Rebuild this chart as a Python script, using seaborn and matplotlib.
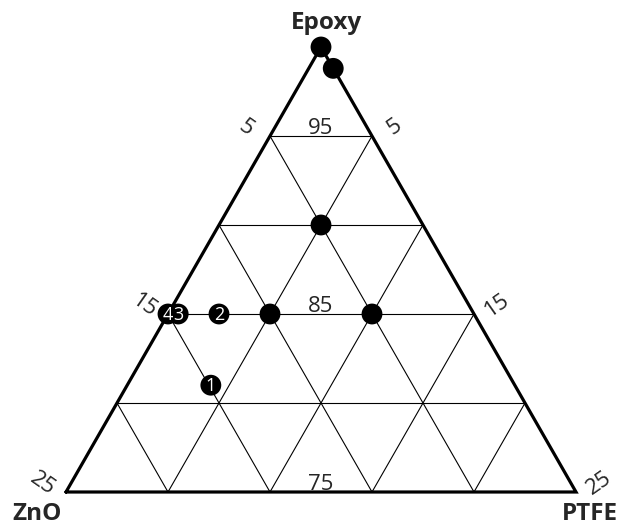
import numpy as np
import pandas as pd
import seaborn as sns
import matplotlib.pyplot as plt

sns.set_style('white')
plt.rcParams['font.family'] = ['Open Sans', 'DejaVu Sans']

# composition of each sample (wt %)
epoxy = [100, 98.8, 90, 85, 85, 81, 85, 85, 85]
ptfe = [0, 1.2, 5, 5, 10, 4.1, 2.5, 0.5, 0]
zno = [0, 0, 5, 10, 5, 14.9, 12.5, 14.5, 15]
point_labels = ['', '', '', '', '', '1', '2', '3', '4']

grid_steps = [5, 10, 15, 20]
side_ticks = [5, 15, 25]
center_ticks = [95, 85, 75]

EMIN, SPAN = 75, 25
H = 445 / 510
PX = 1 / 510


def to_xy(e, p):
    t = (np.asarray(e, float) - EMIN) / SPAN
    return np.asarray(p, float) / SPAN + t / 2, t * H


df = pd.DataFrame({'Epoxy': epoxy, 'PTFE': ptfe, 'ZnO': zno, 'label': point_labels})
df['x'], df['y'] = to_xy(df['Epoxy'], df['PTFE'])

fig = plt.figure(figsize=(6.2, 5.27), dpi=100)
ax = fig.add_axes([0, 0, 1, 1])
ax.set_xlim(-66 * PX, 554 * PX)
ax.set_ylim(-35 * PX, 492 * PX)
ax.axis('off')

# inner grid
for g in grid_steps:
    # constant epoxy
    xs, ys = to_xy([100 - g, 100 - g], [0, g])
    ax.plot(xs, ys, color='black', lw=0.8, zorder=1)
    # constant PTFE
    xs, ys = to_xy([EMIN, 100 - g], [g, g])
    ax.plot(xs, ys, color='black', lw=0.8, zorder=1)
    # constant ZnO
    xs, ys = to_xy([EMIN, 100 - g], [SPAN - g, 0])
    ax.plot(xs, ys, color='black', lw=0.8, zorder=1)

# outer triangle
xs, ys = to_xy([EMIN, EMIN, 100, EMIN], [0, SPAN, 0, 0])
ax.plot(xs, ys, color='black', lw=2.3, solid_joinstyle='miter', zorder=2)

sns.scatterplot(data=df, x='x', y='y', color='black', s=225, edgecolor='none',
                legend=False, ax=ax, zorder=3)
for _, r in df[df['label'] != ''].iterrows():
    ax.text(r['x'], r['y'] - 0.5 * PX, r['label'], color='white', fontsize=13,
            ha='center', va='center', zorder=4)
ax.set_xlabel('')
ax.set_ylabel('')

# tick labels
for v in center_ticks:
    x, y = to_xy(v, (100 - v) / 2)
    ax.text(x, y + 2 * PX, str(v), fontsize=16, ha='center', va='baseline')
for v in side_ticks:
    x, y = to_xy(100 - v, 0)
    ax.text(x - 24 * PX, y + 8 * PX, str(v), fontsize=16, rotation=-35,
            ha='center', va='center')
    x, y = to_xy(100 - v, v)
    ax.text(x + 23 * PX, y + 9 * PX, str(v), fontsize=16, rotation=35,
            ha='center', va='center')

# vertex names
x, y = to_xy(100, 0)
ax.text(x + 5 * PX, y + 24 * PX, 'Epoxy', fontsize=17.5, fontweight='bold',
        ha='center', va='center')
x, y = to_xy(EMIN, 0)
ax.text(x - 29 * PX, y - 22 * PX, 'ZnO', fontsize=17.5, fontweight='bold',
        ha='center', va='center')
x, y = to_xy(EMIN, SPAN)
ax.text(x + 14 * PX, y - 22 * PX, 'PTFE', fontsize=17.5, fontweight='bold',
        ha='center', va='center')

fig.savefig('out.png', dpi=100)
